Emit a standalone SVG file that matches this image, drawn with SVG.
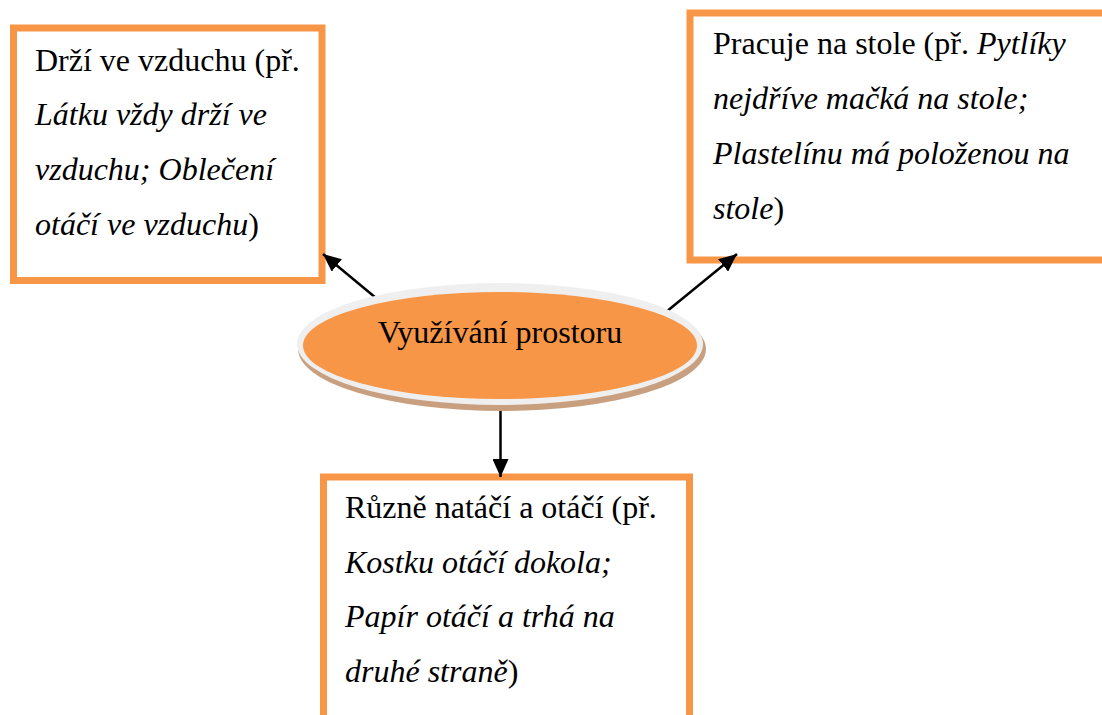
<svg xmlns="http://www.w3.org/2000/svg" width="1102" height="715" viewBox="0 0 1102 715">
  <style>
    .box { fill: #ffffff; stroke: #f79646; stroke-width: 7; }
    .txt { font-family: "Liberation Serif", "Times New Roman", serif; font-size: 32px; fill: #000000; }
    .it { font-style: italic; }
    .conn { stroke: #000000; stroke-width: 2.5; fill: none; marker-end: url(#arrow); }
  </style>
  <defs>
    <marker id="arrow" markerUnits="userSpaceOnUse" markerWidth="19" markerHeight="16" refX="18" refY="8" orient="auto">
      <path d="M0,0 L18,8 L0,16 Z" fill="#000000"/>
    </marker>
  </defs>
  <rect width="1102" height="715" fill="#ffffff"/>

  <g id="node-vzduch">
    <rect class="box" x="13.5" y="28" width="308.5" height="252.5"/>
    <text class="txt" x="35" y="71">Drží ve vzduchu (př.</text>
    <text class="txt it" x="35" y="125">Látku vždy drží ve</text>
    <text class="txt" x="35" y="180"><tspan class="it">vzduchu; Oblečení</tspan></text>
    <text class="txt" x="35" y="235"><tspan class="it">otáčí ve vzduchu</tspan>)</text>
  </g>

  <g id="node-stul">
    <rect class="box" x="690" y="13" width="440" height="247"/>
    <text class="txt" x="713" y="54">Pracuje na stole (př. <tspan class="it">Pytlíky</tspan></text>
    <text class="txt it" x="713" y="109">nejdříve mačká na stole;</text>
    <text class="txt it" x="713" y="164">Plastelínu má položenou na</text>
    <text class="txt" x="713" y="219"><tspan class="it">stole</tspan>)</text>
  </g>

  <g id="node-otaceni">
    <rect class="box" x="323.5" y="477" width="366" height="300"/>
    <text class="txt" x="345" y="518">Různě natáčí a otáčí (př.</text>
    <text class="txt it" x="345" y="573">Kostku otáčí dokola;</text>
    <text class="txt it" x="345" y="627">Papír otáčí a trhá na</text>
    <text class="txt" x="345" y="682"><tspan class="it">druhé straně</tspan>)</text>
  </g>

  <g id="connectors">
    <line class="conn" x1="376" y1="298" x2="323" y2="254"/>
    <line class="conn" x1="666" y1="312" x2="737" y2="254"/>
    <line class="conn" x1="500.5" y1="409" x2="500.5" y2="477"/>
  </g>

  <g id="node-center">
    <ellipse cx="502" cy="349" rx="204" ry="62" fill="#c9a07f"/>
    <ellipse cx="500" cy="344" rx="203" ry="61" fill="#efefef"/>
    <ellipse cx="500" cy="345.5" rx="197" ry="53.5" fill="#f79646"/>
    <text class="txt" x="500" y="343" text-anchor="middle">Využívání prostoru</text>
  </g>
</svg>
